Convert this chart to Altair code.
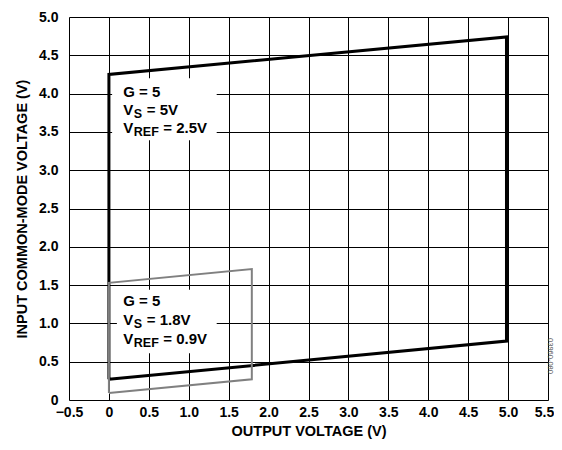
import altair as alt
import pandas as pd

# Black envelope (VS = 5V, VREF = 2.5V)
black_x = [0.0, 0.0, 4.98, 4.98, 0.0]
black_y = [0.27, 4.25, 4.74, 0.77, 0.27]
# Gray envelope (VS = 1.8V, VREF = 0.9V)
gray_x = [0.0, 0.0, 1.79, 1.79, 0.0]
gray_y = [0.09, 1.53, 1.71, 0.27, 0.09]

x_ticks = [-0.5, 0, 0.5, 1.0, 1.5, 2.0, 2.5, 3.0, 3.5, 4.0, 4.5, 5.0, 5.5]
y_ticks = [0, 0.5, 1.0, 1.5, 2.0, 2.5, 3.0, 3.5, 4.0, 4.5, 5.0]

label1 = ["G = 5", "V", "S", "= 5V", "V", "REF", "= 2.5V"]
label2 = ["G = 5", "V", "S", "= 1.8V", "V", "REF", "= 0.9V"]

FONT = "Liberation Sans"
W, H = 479, 383

xs = alt.Scale(domain=[-0.5, 5.5], nice=False, zero=False)
ys = alt.Scale(domain=[0, 5.0], nice=False, zero=False)

LBL = "datum.value == 0 ? '0' : replace(format(datum.value, '.1f'), '-', '–')"

black_df = pd.DataFrame({"x": black_x, "y": black_y, "o": range(len(black_x))})
gray_df = pd.DataFrame({"x": gray_x, "y": gray_y, "o": range(len(gray_x))})

common_axis = dict(
    grid=True, gridColor="black", gridWidth=1, gridOpacity=1, tickCount=40,
    domain=False, ticks=False, labelOverlap=False, labelFlush=False,
    labelFont=FONT, labelFontSize=14, labelFontWeight="bold", labelColor="black",
    titleFont=FONT, titleFontSize=14.5, titleFontWeight="bold", titleColor="black",
)

base_axes = alt.Chart(pd.DataFrame({"x": [0], "y": [0]})).mark_point(opacity=0).encode(
    x=alt.X("x:Q", scale=xs, axis=alt.Axis(
        values=x_ticks, labelExpr=LBL, title="OUTPUT VOLTAGE (V)",
        labelOffset={"condition": {"test": "datum.value >= 5.5", "value": -4}, "value": 0},
        labelPadding=5, titlePadding=5, **common_axis)),
    y=alt.Y("y:Q", scale=ys, axis=alt.Axis(
        values=y_ticks, labelExpr=LBL, title="INPUT COMMON-MODE VOLTAGE (V)",
        labelPadding=11, titlePadding=9, **common_axis)),
)

# white boxes behind labels
box_df = pd.DataFrame({"x": [0.04, 0.1], "x2": [1.35, 1.35], "y": [4.2, 1.44], "y2": [3.39, 0.61]})
boxes = alt.Chart(box_df).mark_rect(color="white").encode(
    x=alt.X("x:Q", scale=xs), x2="x2:Q", y=alt.Y("y:Q", scale=ys), y2="y2:Q")

black_line = alt.Chart(black_df).mark_line(color="black", strokeWidth=3, strokeJoin="miter").encode(
    x=alt.X("x:Q", scale=xs), y=alt.Y("y:Q", scale=ys), order="o:Q")
gray_line = alt.Chart(gray_df).mark_line(color="#808080", strokeWidth=2, strokeJoin="miter").encode(
    x=alt.X("x:Q", scale=xs), y=alt.Y("y:Q", scale=ys), order="o:Q")

def text_layers(parts, x0, ys_lines, eq_dx):
    layers = []
    # (text index, line, dx, dy, size)
    spec = [
        (0, 0, 0, 0, 15),
        (1, 1, 0, 0, 15),
        (2, 1, 10.5, 4, 12.5),
        (3, 1, eq_dx[0], 0, 15),
        (4, 2, 0, 0, 15),
        (5, 2, 10.5, 4, 12.5),
        (6, 2, eq_dx[1], 0, 15),
    ]
    for ti, li, dx, dy, sz in spec:
        d = pd.DataFrame({"x": [x0], "y": [ys_lines[li]], "t": [parts[ti]]})
        layers.append(alt.Chart(d).mark_text(
            align="left", baseline="middle", dx=dx, dy=dy, font=FONT,
            fontSize=sz, fontWeight="bold", color="black").encode(
            x=alt.X("x:Q", scale=xs), y=alt.Y("y:Q", scale=ys), text="t:N"))
    return layers

t1 = text_layers(label1, 0.18, [4.02, 3.79, 3.55], (23.5, 40))
t2 = text_layers(label2, 0.18, [1.29, 1.04, 0.80], (23.5, 40))

side = alt.Chart(pd.DataFrame({"t": ["03960-080"]})).mark_text(
    angle=90, font=FONT, fontSize=7.5, color="#555555", align="center", baseline="middle").encode(
    x=alt.value(W + 1.5), y=alt.value(H - 44), text="t:N")

chart = alt.layer(base_axes, boxes, black_line, gray_line, *t1, *t2, side).properties(
    width=W, height=H,
    autosize=alt.AutoSizeParams(type="none"),
    padding={"left": 61, "top": 9, "right": 6, "bottom": 42},
).configure_view(stroke="black", strokeWidth=2).configure(background="white")

chart.save("out.html", embed_options={"renderer": "svg", "actions": False})
